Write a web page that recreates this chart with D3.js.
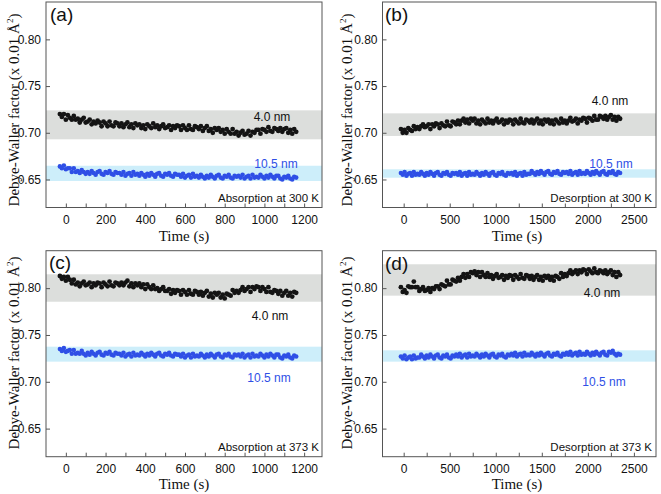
<!DOCTYPE html>
<html><head><meta charset="utf-8">
<script src="https://cdn.jsdelivr.net/npm/d3@7"></script>
<style>body{margin:0;background:#fff}</style>
</head><body><svg id="c" width="661" height="494"></svg>
<script>
// ---------- DATA ----------
const timeAC=[-30,-20,-10,0,10,20,30,40,50,60,
70,80,90,100,110,120,130,140,150,160,
170,180,190,200,210,220,230,240,250,260,
270,280,290,300,310,320,330,340,350,360,
370,380,390,400,410,420,430,440,450,460,
470,480,490,500,510,520,530,540,550,560,
570,580,590,600,610,620,630,640,650,660,
670,680,690,700,710,720,730,740,750,760,
770,780,790,800,810,820,830,840,850,860,
870,880,890,900,910,920,930,940,950,960,
970,980,990,1000,1010,1020,1030,1040,1050,1060,
1070,1080,1090,1100,1110,1120,1130,1140,1150,1160];
const timeBD=[-30,-10,10,30,50,70,90,110,130,150,
170,190,210,230,250,270,290,310,330,350,
370,390,410,430,450,470,490,510,530,550,
570,590,610,630,650,670,690,710,730,750,
770,790,810,830,850,870,890,910,930,950,
970,990,1010,1030,1050,1070,1090,1110,1130,1150,
1170,1190,1210,1230,1250,1270,1290,1310,1330,1350,
1370,1390,1410,1430,1450,1470,1490,1510,1530,1550,
1570,1590,1610,1630,1650,1670,1690,1710,1730,1750,
1770,1790,1810,1830,1850,1870,1890,1910,1930,1950,
1970,1990,2010,2030,2050,2070,2090,2110,2130,2150,
2170,2190,2210,2230,2250,2270,2290,2310,2330,2350];

const aBlack=[.720,.717,.720,.714,.719,.716,.714,.718,.714,.715,
.711,.714,.716,.711,.712,.714,.709,.712,.710,.713,
.711,.707,.712,.710,.707,.712,.708,.707,.711,.710,
.707,.710,.706,.709,.711,.706,.709,.705,.710,.708,
.709,.705,.708,.704,.709,.707,.705,.710,.706,.708,
.704,.707,.709,.705,.706,.708,.703,.707,.705,.708,
.707,.703,.708,.705,.703,.708,.704,.703,.707,.706,
.704,.707,.702,.705,.707,.702,.704,.700,.705,.703,
.705,.701,.703,.699,.704,.701,.699,.704,.699,.701,
.697,.700,.702,.698,.699,.702,.697,.701,.700,.703,
.703,.699,.704,.703,.701,.706,.702,.701,.705,.704,
.702,.705,.701,.704,.705,.700,.703,.699,.704,.701];
const aBlue=[.664,.662,.665,.661,.662,.662,.658,.662,.658,.659,
.657,.660,.658,.656,.658,.656,.659,.657,.655,.658,
.659,.656,.655,.658,.657,.659,.656,.655,.658,.657,
.657,.655,.658,.654,.656,.657,.654,.658,.655,.656,
.654,.657,.655,.653,.656,.654,.657,.655,.653,.656,
.657,.654,.653,.656,.655,.657,.654,.653,.656,.655,
.655,.653,.656,.652,.654,.655,.652,.656,.653,.654,
.652,.655,.653,.651,.654,.652,.655,.653,.651,.654,
.655,.652,.651,.654,.653,.655,.652,.651,.654,.653,
.654,.652,.655,.651,.653,.654,.651,.655,.652,.653,
.652,.655,.653,.651,.654,.652,.655,.653,.651,.654,
.654,.651,.650,.653,.652,.654,.651,.650,.653,.652];
const bBlack=[.704,.700,.703,.700,.705,.703,.702,.707,.704,.706,
.704,.707,.709,.706,.707,.709,.704,.709,.707,.710,
.709,.705,.710,.708,.707,.712,.708,.707,.712,.711,
.709,.713,.709,.713,.715,.711,.714,.710,.715,.713,
.715,.710,.713,.709,.714,.712,.710,.715,.711,.713,
.710,.713,.715,.711,.712,.714,.709,.713,.711,.714,
.713,.709,.714,.712,.710,.715,.711,.710,.714,.713,
.711,.714,.710,.713,.715,.710,.713,.709,.714,.712,
.714,.710,.713,.709,.714,.712,.710,.715,.711,.713,
.710,.713,.716,.712,.713,.715,.710,.714,.713,.716,
.715,.711,.716,.715,.713,.718,.714,.714,.718,.717,
.715,.718,.714,.717,.719,.714,.717,.713,.717,.715];
const bBlue=[.657,.655,.658,.654,.656,.657,.654,.658,.655,.656,
.655,.658,.656,.654,.657,.655,.658,.656,.654,.657,
.658,.655,.654,.657,.656,.658,.655,.654,.657,.656,
.657,.655,.658,.654,.656,.657,.654,.658,.655,.656,
.655,.658,.656,.654,.657,.655,.658,.656,.654,.657,
.658,.655,.654,.657,.656,.658,.655,.654,.657,.656,
.657,.655,.658,.654,.656,.657,.654,.658,.655,.656,
.656,.659,.657,.655,.658,.656,.659,.657,.655,.658,
.659,.656,.655,.658,.657,.659,.656,.655,.658,.657,
.658,.656,.659,.655,.657,.658,.655,.659,.656,.657,
.656,.659,.657,.655,.658,.656,.659,.657,.655,.658,
.659,.656,.655,.658,.657,.659,.656,.655,.658,.657];
const cBlack=[.813,.810,.812,.808,.812,.809,.805,.809,.804,.806,
.802,.805,.807,.803,.804,.806,.801,.805,.803,.806,
.805,.801,.806,.804,.802,.807,.803,.802,.806,.805,
.803,.806,.803,.806,.808,.802,.805,.801,.805,.803,
.805,.801,.804,.799,.804,.801,.799,.803,.799,.800,
.797,.799,.801,.797,.797,.799,.794,.798,.795,.798,
.797,.793,.798,.796,.793,.798,.794,.793,.797,.796,
.793,.796,.792,.795,.797,.791,.794,.790,.795,.793,
.795,.790,.793,.789,.794,.793,.792,.798,.795,.797,
.795,.798,.801,.797,.799,.801,.796,.801,.799,.802,
.801,.797,.801,.799,.796,.801,.796,.795,.798,.797,
.794,.797,.792,.795,.797,.792,.795,.791,.796,.795];
const cBlue=[.735,.733,.736,.732,.733,.734,.730,.734,.730,.731,
.730,.733,.730,.728,.731,.729,.732,.730,.728,.731,
.732,.729,.728,.731,.730,.732,.729,.728,.731,.730,
.730,.728,.731,.727,.729,.730,.727,.731,.728,.729,
.728,.731,.729,.727,.730,.728,.731,.729,.727,.730,
.731,.728,.727,.730,.729,.731,.728,.727,.730,.729,
.729,.727,.730,.726,.728,.729,.726,.730,.727,.728,
.727,.730,.728,.726,.729,.727,.730,.728,.726,.729,
.730,.727,.726,.729,.728,.730,.727,.726,.729,.728,
.729,.727,.730,.726,.728,.729,.726,.730,.727,.728,
.727,.730,.728,.726,.729,.727,.730,.728,.726,.729,
.729,.726,.725,.728,.727,.729,.726,.725,.728,.727];
const dBlack=[.801,.796,.798,.795,.802,.801,.801,.807,.801,.801,
.797,.799,.801,.797,.798,.800,.796,.800,.799,.802,
.802,.799,.804,.803,.802,.808,.804,.804,.809,.808,
.807,.811,.808,.812,.815,.811,.815,.812,.817,.816,
.818,.814,.817,.812,.817,.814,.812,.816,.812,.814,
.810,.813,.815,.811,.812,.814,.809,.813,.811,.814,
.813,.809,.814,.812,.810,.815,.811,.810,.814,.813,
.810,.813,.809,.812,.814,.809,.812,.808,.813,.811,
.813,.809,.812,.808,.813,.812,.810,.816,.812,.815,
.813,.816,.819,.815,.817,.819,.815,.819,.817,.820,
.819,.815,.820,.818,.816,.821,.817,.816,.819,.818,
.816,.819,.815,.817,.819,.814,.817,.812,.817,.814];
const dBlue=[.727,.725,.728,.724,.726,.727,.724,.728,.725,.726,
.726,.729,.727,.725,.728,.726,.729,.727,.725,.728,
.729,.726,.725,.728,.727,.729,.726,.725,.728,.727,
.729,.727,.730,.726,.728,.729,.726,.730,.727,.728,
.727,.730,.728,.726,.729,.727,.730,.728,.726,.729,
.730,.727,.726,.729,.728,.730,.727,.726,.729,.728,
.730,.728,.731,.727,.729,.730,.727,.731,.728,.729,
.728,.731,.729,.727,.730,.728,.731,.729,.727,.730,
.731,.728,.727,.730,.729,.731,.728,.727,.730,.729,
.731,.729,.732,.728,.730,.731,.728,.732,.729,.730,
.729,.732,.730,.728,.731,.729,.732,.730,.728,.731,
.732,.729,.728,.732,.731,.733,.730,.728,.730,.729];

const panelLabels=["(a)","(b)","(c)","(d)"];
const modeLabels=["Absorption at 300 K","Desorption at 300 K","Absorption at 373 K","Desorption at 373 K"];
const sizeLabels=["4.0 nm","10.5 nm"];
const grayBands=[[0.693,0.724],[0.6966,0.7208],[0.7855,0.8148],[0.792,0.8255]];
const blueBands=[[0.6484,0.6647],[0.6519,0.6609],[0.7215,0.7375],[0.7215,0.7336]];
const yTicks=[0.65,0.70,0.75,0.80];
const xTicksAC=[0,200,400,600,800,1000,1200];
const xMinorAC=[-100,100,300,500,700,900,1100];
const xTicksBD=[0,500,1000,1500,2000,2500];
const xMinorBD=[-250,250,750,1250,1750,2250];
const yTitle="Debye-Waller factor (x 0.01 Å";
const xTitle="Time (s)";

// ---------- LAYOUT ----------
const svg=d3.select("#c");
const SANS="'Liberation Sans', Arial, sans-serif";
const SERIF="'Liberation Serif', 'Times New Roman', serif";
const BLACK="#141414", BLUE="#2f4fe6", GRAY_BAND="#dcdedc", BLUE_BAND="#cdeefa", AXIS="#555";

const panels=[
 {L:46,R:322,T:2,B:207.5,xd:[-100,1290],time:timeAC,blk:aBlack,blu:aBlue,xt:xTicksAC,xm:xMinorAC,
  lab:[50,21],s4:[272,120.5],s10:[276,168],mode:[319,201.5],yt:[18.5,110],xtl:[184,241]},
 {L:382.5,R:656,T:2,B:207.5,xd:[-230,2740],time:timeBD,blk:bBlack,blu:bBlue,xt:xTicksBD,xm:xMinorBD,
  lab:[385,21],s4:[610,104.5],s10:[611,168],mode:[652,201.5],yt:[351.5,110],xtl:[517,240.5]},
 {L:46,R:322,T:250.7,B:456.7,xd:[-100,1290],time:timeAC,blk:cBlack,blu:cBlue,xt:xTicksAC,xm:xMinorAC,
  lab:[49,269],s4:[270,319.5],s10:[269,381.5],mode:[319,450.5],yt:[18.5,353],xtl:[184,488.5]},
 {L:382.5,R:656,T:250.7,B:456.7,xd:[-230,2740],time:timeBD,blk:dBlack,blu:dBlue,xt:xTicksBD,xm:xMinorBD,
  lab:[385,270],s4:[602,297],s10:[604,386],mode:[652,451],yt:[351.5,353],xtl:[517,488.5]}
];

panels.forEach((p,i)=>{
  const x=d3.scaleLinear().domain(p.xd).range([p.L,p.R]);
  const y=d3.scaleLinear().domain([0.62,0.84]).range([p.B,p.T]);
  const g=svg.append("g");
  const cid="clip"+i;
  svg.append("clipPath").attr("id",cid).append("rect")
    .attr("x",p.L).attr("y",p.T).attr("width",p.R-p.L).attr("height",p.B-p.T);
  const cg=g.append("g").attr("clip-path",`url(#${cid})`);
  [[grayBands[i],GRAY_BAND],[blueBands[i],BLUE_BAND]].forEach(([b,c])=>{
    cg.append("rect").attr("x",p.L).attr("width",p.R-p.L)
      .attr("y",y(b[1])).attr("height",y(b[0])-y(b[1])).attr("fill",c);
  });
  const blkPts=p.time.map((t,k)=>[t,p.blk[k]]);
  const bluPts=p.time.map((t,k)=>[t,p.blu[k]]);
  cg.selectAll(null).data(blkPts).enter().append("circle")
    .attr("cx",d=>x(d[0])).attr("cy",d=>y(d[1])).attr("r",2.4).attr("fill",BLACK);
  cg.selectAll(null).data(bluPts).enter().append("circle")
    .attr("cx",d=>x(d[0])).attr("cy",d=>y(d[1])).attr("r",2.3).attr("fill",BLUE);
  const ax=g.append("g").attr("transform",`translate(0,${p.B})`)
    .call(d3.axisBottom(x).tickValues(p.xt).tickSizeInner(-4).tickSizeOuter(0).tickPadding(8).tickFormat(d3.format("d")));
  const axm=g.append("g").attr("transform",`translate(0,${p.B})`)
    .call(d3.axisBottom(x).tickValues(p.xm.filter(v=>v>p.xd[0])).tickSizeInner(-4).tickSizeOuter(0).tickFormat(""));
  const ay=g.append("g").attr("transform",`translate(${p.L},0)`)
    .call(d3.axisLeft(y).tickValues(yTicks).tickSizeInner(-4).tickSizeOuter(0).tickPadding(5).tickFormat(d3.format(".2f")));
  [ax,axm,ay].forEach(a=>{
    a.select(".domain").remove();
    a.selectAll("line").attr("stroke",AXIS);
    a.selectAll("text").attr("font-family",SANS).attr("font-size",12).attr("fill","#111");
  });
  g.append("rect").attr("x",p.L).attr("y",p.T).attr("width",p.R-p.L).attr("height",p.B-p.T)
    .attr("fill","none").attr("stroke",AXIS).attr("stroke-width",1);
  g.append("text").attr("x",p.lab[0]).attr("y",p.lab[1]).text(panelLabels[i])
    .attr("font-family",SANS).attr("font-size",19).attr("fill","#111");
  g.append("text").attr("x",p.s4[0]).attr("y",p.s4[1]).text(sizeLabels[0]).attr("text-anchor","middle")
    .attr("font-family",SANS).attr("font-size",12).attr("fill","#111");
  g.append("text").attr("x",p.s10[0]).attr("y",p.s10[1]).text(sizeLabels[1]).attr("text-anchor","middle")
    .attr("font-family",SANS).attr("font-size",12).attr("fill",BLUE);
  g.append("text").attr("x",p.mode[0]).attr("y",p.mode[1]).text(modeLabels[i]).attr("text-anchor","end")
    .attr("font-family",SANS).attr("font-size",11.5).attr("fill","#111");
  const yt=g.append("text").attr("transform",`translate(${p.yt[0]},${p.yt[1]}) rotate(-90)`)
    .attr("text-anchor","middle").attr("font-family",SERIF).attr("font-size",15).attr("fill","#111");
  yt.append("tspan").text(yTitle);
  yt.append("tspan").text("2").attr("font-size",9).attr("dy",-6);
  yt.append("tspan").text(")").attr("dy",6);
  g.append("text").attr("x",p.xtl[0]).attr("y",p.xtl[1]).text(xTitle).attr("text-anchor","middle")
    .attr("font-family",SERIF).attr("font-size",15).attr("fill","#111");
});
</script>
</body></html>
